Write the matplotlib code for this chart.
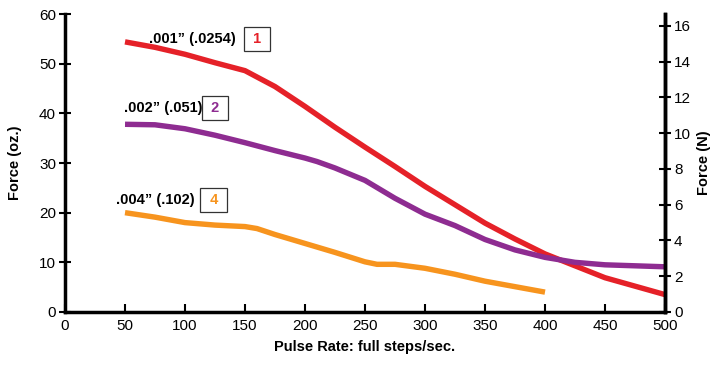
import matplotlib
matplotlib.use('Agg')
import matplotlib.pyplot as plt
import numpy as np

plt.rcParams['font.family'] = ['Liberation Sans', 'DejaVu Sans']

# pulse rate (full steps/sec) and force (oz.)
rate_1 = [50, 75, 100, 125, 150, 175, 200, 225, 250, 275, 300, 325, 350, 375, 400, 425, 450, 475, 500]
force_1 = [54.4, 53.3, 51.9, 50.2, 48.6, 45.4, 41.4, 37.2, 33.2, 29.3, 25.3, 21.6, 17.9, 14.7, 11.7, 9.3, 6.9, 5.2, 3.5]

rate_2 = [50, 75, 100, 125, 150, 175, 200, 210, 225, 250, 275, 300, 325, 350, 375, 400, 425, 450, 475, 500]
force_2 = [37.8, 37.7, 36.9, 35.6, 34.1, 32.5, 31.0, 30.3, 29.0, 26.5, 22.9, 19.7, 17.4, 14.6, 12.5, 11.0, 10.0, 9.5, 9.3, 9.1]

rate_4 = [50, 75, 100, 125, 150, 160, 175, 200, 225, 250, 260, 275, 300, 325, 350, 375, 400]
force_4 = [20.0, 19.1, 18.0, 17.5, 17.2, 16.8, 15.6, 13.8, 12.0, 10.1, 9.6, 9.6, 8.8, 7.6, 6.2, 5.1, 4.0]

labels = ['.001\u201d (.0254)', '.002\u201d (.051)', '.004\u201d (.102)']
numbers = ['1', '2', '4']
colors = ['#E52128', '#8E2C91', '#F7941E']

fig = plt.figure(figsize=(7.24, 3.70), dpi=100)
ax = fig.add_axes([0.0898, 0.1568, 0.8287, 0.8052])

for x, y, c in zip([rate_1, rate_2, rate_4], [force_1, force_2, force_4], colors):
    ax.plot(x, y, color=c, linewidth=3.9, solid_capstyle='butt', solid_joinstyle='round')

ax.set_xlim(0, 500)
ax.set_ylim(0, 60)
ax.set_xticks(np.arange(0, 501, 50))
ax.set_yticks(np.arange(0, 61, 10))

for s in ['left', 'bottom', 'right']:
    ax.spines[s].set_linewidth(2.5)
ax.spines['top'].set_visible(False)
ax.tick_params(axis='y', direction='inout', length=9, width=1.5, labelsize=11, pad=2)
ax.tick_params(axis='x', direction='in', length=6, width=1.5, labelsize=11, pad=5)

ax.set_xlabel('Pulse Rate: full steps/sec.', fontweight='bold', fontsize=10.5, labelpad=5)
ax.set_ylabel('Force (oz.)', fontweight='bold', fontsize=10.5, labelpad=12)

ax2 = ax.twinx()
ax2.set_ylim(0, 60 / 3.6)
ax2.set_yticks(np.arange(0, 17, 2))
ax2.spines['top'].set_visible(False)
ax2.spines['right'].set_linewidth(2.5)
ax2.tick_params(axis='y', direction='inout', length=9, width=1.5, labelsize=11, pad=2)
ax2.set_ylabel('Force (N)', fontweight='bold', fontsize=10.5, labelpad=4)

# curve labels
text_pos = [(106, 55.0), (82, 41.1), (75, 22.5)]
box_pos = [(160, 55.0), (125, 41.1), (124, 22.5)]
for lab, num, c, tp, bp in zip(labels, numbers, colors, text_pos, box_pos):
    ax.text(tp[0], tp[1], lab, ha='center', va='center', fontsize=10.5, fontweight='bold')
    ax.text(bp[0], bp[1], ' ' + num + ' ', ha='center', va='center', fontsize=10.5, fontweight='bold', color=c,
            bbox=dict(boxstyle='square,pad=0.35', facecolor='white', edgecolor='#333333', linewidth=0.9))

fig.savefig('out.png', dpi=100)
